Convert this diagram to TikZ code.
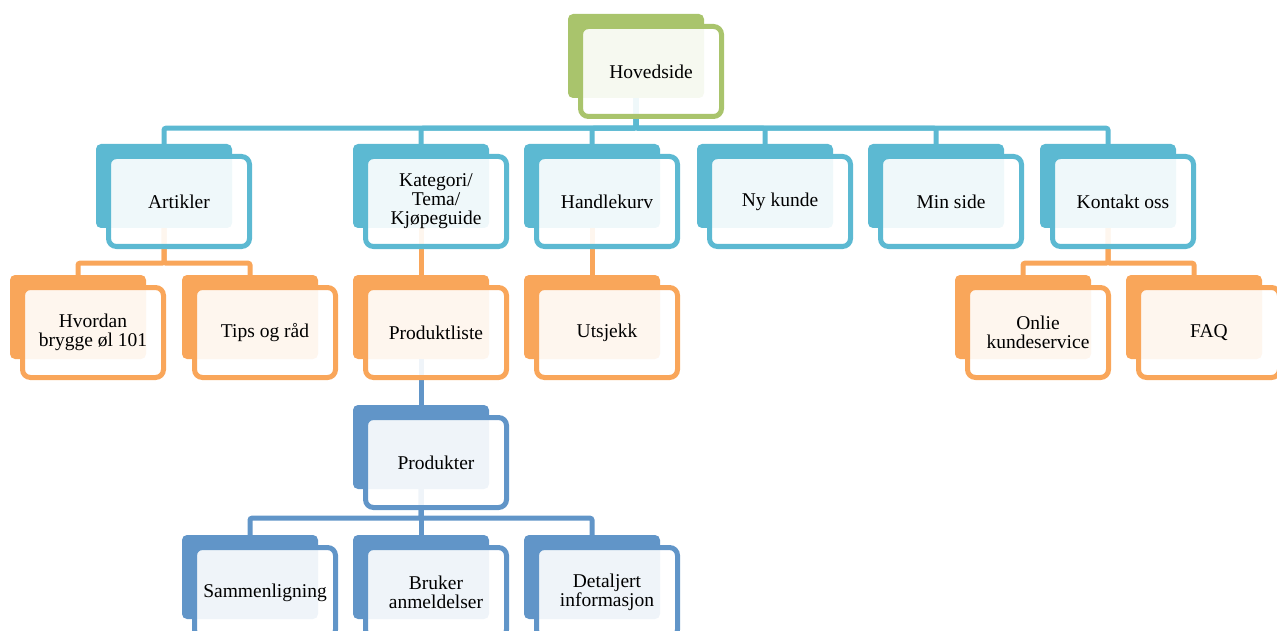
\documentclass[tikz,border=0pt]{standalone}
\usepackage{fontspec}
\setmainfont{Liberation Serif}
\definecolor{leaf}{HTML}{A9C46C}
\definecolor{sky}{HTML}{5CB9D2}
\definecolor{peach}{HTML}{F9A65A}
\definecolor{steel}{HTML}{6195C8}

\begin{document}
\begin{tikzpicture}[x=1pt, y=-1pt,
  bgbox/.style={rectangle, rounded corners=5pt, inner sep=0pt,
                minimum width=136pt, minimum height=84pt, fill=#1},
  fgbox/.style={rectangle, rounded corners=8pt, draw=#1, line width=5pt,
                fill=white, fill opacity=0.9, text opacity=1, align=center,
                minimum width=141pt, minimum height=90pt, inner sep=1pt,
                font=\fontsize{19.5}{19}\selectfont},
  conn/.style={draw=#1, line width=5pt, rounded corners=2pt}]
  \useasboundingbox (0,0) rectangle (1277,631);
  % coloured backs
  \node[bgbox=leaf] (hov) at (636,56) {};
  \node[bgbox=sky] (art) at (164,186) {};
  \node[bgbox=sky] (kat) at (421,186) {};
  \node[bgbox=sky] (hkv) at (592,186) {};
  \node[bgbox=sky] (nyk) at (765,186) {};
  \node[bgbox=sky] (mis) at (936,186) {};
  \node[bgbox=sky] (kon) at (1108,186) {};
  \node[bgbox=peach] (hvo) at (78,317) {};
  \node[bgbox=peach] (tip) at (250,317) {};
  \node[bgbox=peach] (prl) at (421,317) {};
  \node[bgbox=peach] (utj) at (592,317) {};
  \node[bgbox=peach] (onl) at (1023,317) {};
  \node[bgbox=peach] (faq) at (1194,317) {};
  \node[bgbox=steel] (prd) at (421,447) {};
  \node[bgbox=steel] (sam) at (250,577) {};
  \node[bgbox=steel] (bru) at (421,577) {};
  \node[bgbox=steel] (det) at (592,577) {};
  % connectors
  \draw[conn=sky] (hov.south) -- ++(0,30) -| (art.north);
  \draw[conn=sky] (hov.south) -- ++(0,30) -| (kat.north);
  \draw[conn=sky] (hov.south) -- ++(0,30) -| (hkv.north);
  \draw[conn=sky] (hov.south) -- ++(0,30) -| (nyk.north);
  \draw[conn=sky] (hov.south) -- ++(0,30) -| (mis.north);
  \draw[conn=sky] (hov.south) -- ++(0,30) -| (kon.north);
  \draw[conn=peach] (art.south) -- ++(0,35) -| (hvo.north);
  \draw[conn=peach] (art.south) -- ++(0,35) -| (tip.north);
  \draw[conn=peach] (kat.south) -- (prl.north);
  \draw[conn=peach] (hkv.south) -- (utj.north);
  \draw[conn=peach] (kon.south) -- ++(0,35) -| (onl.north);
  \draw[conn=peach] (kon.south) -- ++(0,35) -| (faq.north);
  \draw[conn=steel] (prl.south) -- (prd.north);
  \draw[conn=steel] (prd.south) -- ++(0,29) -| (sam.north);
  \draw[conn=steel] (prd.south) -- ++(0,29) -| (bru.north);
  \draw[conn=steel] (prd.south) -- ++(0,29) -| (det.north);
  % framed fronts with the labels
  \node[fgbox=leaf] (hovF) at ([shift={(15,15.5)}]hov.center) {Hovedside};
  \node[fgbox=sky] (artF) at ([shift={(15,15.5)}]art.center) {Artikler};
  \node[fgbox=sky] (katF) at ([shift={(15,15.5)}]kat.center) {Kategori/\\Tema/\\Kjøpeguide};
  \node[fgbox=sky] (hkvF) at ([shift={(15,15.5)}]hkv.center) {Handlekurv};
  \node[fgbox=sky] (nykF) at ([shift={(15,15.5)}]nyk.center) {Ny kunde};
  \node[fgbox=sky] (misF) at ([shift={(15,15.5)}]mis.center) {Min side};
  \node[fgbox=sky] (konF) at ([shift={(15,15.5)}]kon.center) {Kontakt oss};
  \node[fgbox=peach] (hvoF) at ([shift={(15,15.5)}]hvo.center) {Hvordan\\brygge øl 101};
  \node[fgbox=peach] (tipF) at ([shift={(15,15.5)}]tip.center) {Tips og råd};
  \node[fgbox=peach] (prlF) at ([shift={(15,15.5)}]prl.center) {Produktliste};
  \node[fgbox=peach] (utjF) at ([shift={(15,15.5)}]utj.center) {Utsjekk};
  \node[fgbox=peach] (onlF) at ([shift={(15,15.5)}]onl.center) {Onlie\\kundeservice};
  \node[fgbox=peach] (faqF) at ([shift={(15,15.5)}]faq.center) {FAQ};
  \node[fgbox=steel] (prdF) at ([shift={(15,15.5)}]prd.center) {Produkter};
  \node[fgbox=steel] (samF) at ([shift={(15,15.5)}]sam.center) {Sammenligning};
  \node[fgbox=steel] (bruF) at ([shift={(15,15.5)}]bru.center) {Bruker\\anmeldelser};
  \node[fgbox=steel] (detF) at ([shift={(15,15.5)}]det.center) {Detaljert\\informasjon};
\end{tikzpicture}
\end{document}
